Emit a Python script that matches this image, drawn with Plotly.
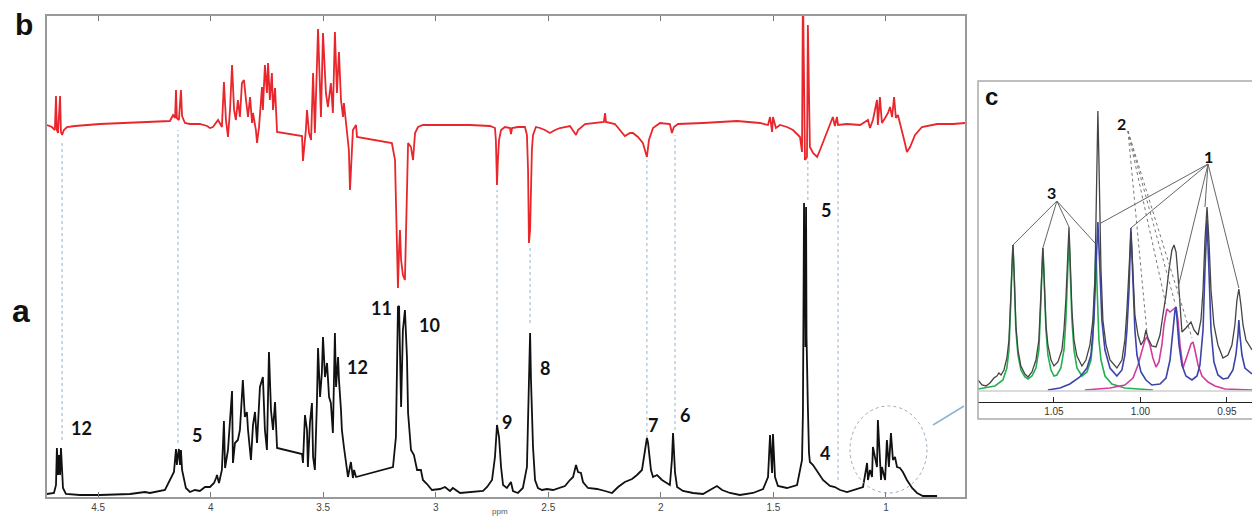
import plotly.graph_objects as go

# ---------------- main spectrum (a), black ----------------
black_ppm = [4.727,4.705,4.696,4.687,4.683,4.678,4.674,4.669,4.665,4.660,4.656,4.643,4.581,4.492,4.358,4.292,4.270,4.203,
             4.181,4.163,4.154,4.150,4.145,4.141,4.136,4.132,4.127,4.118,4.110,4.092,4.070,4.048,4.025,4.003,3.985,3.976,
             3.972,3.963,3.950,3.941,3.936,3.923,3.914,3.905,3.901,3.892,3.879,3.870,3.857,3.848,3.839,3.834,3.821,3.812,
             3.803,3.794,3.781,3.768,3.759,3.750,3.741,3.732,3.723,3.714,3.705,
             3.594,3.590,3.581,3.572,3.568,3.559,3.550,3.545,3.537,3.528,3.523,3.514,3.506,3.501,3.492,3.483,3.474,3.466,
             3.457,3.448,3.443,3.434,3.430,3.421,3.417,3.408,3.399,3.390,3.377,3.368,3.363,3.354,
             3.190,3.177,3.168,3.163,3.154,3.146,3.137,3.128,3.123,3.110,3.097,3.083,3.066,3.057,3.039,3.017,2.981,2.959,
             2.937,2.924,2.892,2.848,2.790,2.772,2.750,2.737,2.728,2.719,2.710,2.701,2.684,2.666,2.657,2.635,2.613,2.595,
             2.590,2.581,2.577,2.568,2.559,2.546,2.528,2.506,2.479,2.448,2.426,2.404,2.390,2.377,2.368,2.355,2.346,2.324,
             2.284,2.248,2.217,2.190,2.160,2.128,2.106,2.084,2.071,2.062,2.057,2.044,2.035,2.017,1.995,1.973,1.960,1.951,
             1.946,1.937,1.928,1.902,1.857,1.813,1.782,1.751,1.728,1.693,1.649,1.591,1.546,1.524,1.515,1.506,1.502,1.493,
             1.480,1.440,1.395,1.373,1.369,1.366,1.364,1.362,1.360,1.358,1.355,1.353,1.351,1.347,1.342,1.338,1.324,1.302,
             1.280,1.249,1.227,1.204,1.173,1.102,1.084,1.080,1.071,1.062,1.058,1.040,1.036,1.022,1.018,1.004,0.996,0.987,
             0.978,0.969,0.960,0.951,0.938,0.925,0.907,0.884,0.862,0.836,0.773,0.649]
black_int = [3,4,4,12,49,22,42,22,49,27,9,3,2,2,3,5,4,7,
             17,25,48,32,42,48,32,47,27,17,9,5,7,6,10,10,14,19,
             22,14,27,76,29,47,79,106,34,54,57,67,117,80,85,67,37,72,
             85,54,110,120,67,47,145,87,67,95,49,
             43,34,82,67,30,74,94,40,27,94,149,100,124,160,120,134,100,94,
             64,164,110,140,117,87,67,50,34,20,35,19,27,20,
             30,60,190,191,90,167,187,140,84,47,42,27,27,17,13,7,8,10,
             6,9,4,5,6,10,17,40,72,60,30,12,9,15,6,4,9,30,
             84,164,117,50,17,9,7,8,7,9,11,17,20,32,25,24,15,9,
             8,6,4,10,15,18,22,27,44,59,54,27,20,22,17,14,12,37,
             64,24,10,6,4,3,7,11,7,4,2,4,8,20,62,24,63,20,
             11,9,12,37,84,200,294,180,250,150,290,160,120,90,44,35,32,
             25,17,11,10,7,5,10,34,17,27,20,50,30,77,17,30,17,57,
             30,64,37,40,30,29,25,17,9,4,1,1]

# ---------------- difference spectrum (b), red ----------------
red_ppm = [4.727,4.705,4.692,4.687,4.683,4.678,4.669,4.665,4.660,4.652,4.638,4.603,4.492,4.358,4.225,4.181,4.167,4.158,
           4.154,4.150,4.141,4.132,4.127,4.114,4.092,4.048,4.016,4.003,3.990,3.972,3.967,3.950,3.941,3.932,3.923,3.914,
           3.905,3.896,3.888,3.879,3.870,3.861,3.852,3.843,3.834,3.825,3.816,3.812,3.799,3.794,3.785,3.772,3.768,3.759,
           3.750,3.745,3.737,3.728,3.723,3.714,3.705,
           3.594,3.590,3.577,3.572,3.563,3.554,3.545,3.537,3.523,3.510,3.501,3.488,3.479,3.466,3.457,3.448,3.439,3.430,
           3.421,3.412,3.408,3.399,3.390,3.386,3.381,3.372,3.368,3.354,3.350,
           3.195,3.181,3.177,3.172,3.168,3.163,3.159,3.154,3.146,3.137,3.132,3.128,3.123,3.110,3.101,3.092,3.079,3.057,
           2.981,2.848,2.759,2.737,2.733,2.728,2.724,2.719,2.710,2.693,2.670,2.666,2.661,2.635,2.604,2.595,2.590,2.586,
           2.581,2.577,2.573,2.568,2.555,2.537,2.515,2.493,2.470,2.448,2.426,2.404,2.377,2.368,2.337,2.293,2.253,2.248,
           2.244,2.204,2.182,2.160,2.137,2.124,2.102,2.080,2.062,2.053,2.035,2.004,1.960,1.951,1.942,1.924,1.813,1.662,
           1.560,1.524,1.515,1.506,1.502,1.489,1.471,1.440,1.413,1.382,1.373,1.369,1.360,1.351,1.347,1.338,1.324,1.306,
           1.293,1.271,1.253,1.236,1.227,1.218,1.213,1.173,1.115,1.080,1.071,1.058,1.040,1.036,1.027,1.018,1.004,0.991,
           0.982,0.973,0.964,0.956,0.947,0.929,0.916,0.907,0.893,0.871,0.840,0.773,0.702,0.649]
red_int = [0,-2,-5,29,-5,-8,29,-7,-10,-5,-2,-1,1,2,3,4,10,7,
           35,7,5,35,9,2,1,1,-1,-3,-2,3,5,-2,43,5,-12,15,
           60,15,5,25,8,42,45,25,8,28,2,12,-5,-18,-2,38,15,60,
           32,62,25,52,15,37,-7,
           -11,-36,-5,15,-8,-15,52,-8,96,8,92,32,18,42,12,93,32,73,
           25,8,22,2,-12,-25,-65,-15,-5,0,-12,
           -18,-35,-75,-135,-163,-125,-105,-135,-150,-155,-95,-45,-18,-22,-35,-8,-2,0,
           0,0,-1,-3,-15,-60,-35,-15,-5,-2,-3,-9,-3,-2,-2,-10,-45,-118,
           -105,-65,-25,-10,-2,-3,-5,-8,-5,-3,-2,-1,-10,-5,1,2,3,12,
           3,1,-5,-11,-8,-8,-12,-18,-32,-15,-3,2,1,-8,-2,1,2,4,
           2,0,8,-7,8,-3,0,-2,-5,-12,-27,140,-35,-32,100,-22,-28,-32,
           -25,-12,-1,8,-1,8,0,1,0,5,-3,5,25,0,28,2,7,12,
           18,8,28,7,10,-5,-18,-27,-22,-10,-2,1,1,2]

# ---------------- inset (c): 1.09 - 0.94 ppm ----------------
inset_black_ppm = [1.0939,1.0916,1.0893,1.0870,1.0847,1.0830,1.0818,1.0806,1.0789,1.0772,1.0760,1.0754,1.0749,1.0743,1.0737,
                   1.0731,1.0725,1.0720,1.0708,1.0691,1.0668,1.0650,1.0627,1.0604,1.0587,1.0581,1.0575,1.0569,1.0564,1.0558,
                   1.0552,1.0546,1.0535,1.0517,1.0500,1.0477,1.0454,1.0442,1.0431,1.0425,1.0419,1.0413,1.0408,1.0402,1.0396,
                   1.0384,1.0367,1.0338,1.0315,1.0292,1.0275,1.0263,1.0257,1.0252,1.0246,1.0240,1.0234,1.0228,1.0217,1.0199,
                   1.0176,1.0136,1.0107,1.0090,1.0078,1.0066,1.0061,1.0055,1.0049,1.0043,1.0032,1.0014,0.9997,0.9980,0.9968,
                   0.9957,0.9934,0.9910,0.9887,0.9870,0.9852,0.9835,0.9818,0.9806,0.9794,0.9783,0.9771,0.9760,0.9737,0.9708,
                   0.9690,0.9667,0.9650,0.9638,0.9627,0.9615,0.9604,0.9592,0.9575,0.9552,0.9523,0.9494,0.9471,0.9454,0.9442,
                   0.9431,0.9419,0.9407,0.9390,0.9355]
inset_black_int = [11,6,5,8,13,15,18,16,21,33,51,71,96,123,146,
                   123,96,66,41,25,17,14,19,31,51,71,96,123,143,121,
                   93,66,46,31,25,29,41,61,91,121,146,164,141,111,81,
                   51,35,25,31,46,71,111,171,231,280,231,171,121,71,46,
                   31,23,31,51,81,121,146,159,141,111,76,56,46,51,61,
                   53,45,44,56,76,96,121,141,146,139,116,81,59,63,69,
                   61,56,71,101,151,184,151,101,66,46,33,36,46,66,91,
                   102,86,66,51,41]

inset_green_ppm = [1.0939,1.0841,1.0795,1.0772,1.0760,1.0754,1.0749,1.0743,1.0737,1.0731,1.0725,1.0720,1.0708,1.0691,1.0668,
                   1.0650,1.0627,1.0604,1.0587,1.0581,1.0575,1.0569,1.0564,1.0558,1.0552,1.0546,1.0535,1.0517,1.0500,1.0483,
                   1.0460,1.0442,1.0431,1.0425,1.0419,1.0413,1.0408,1.0402,1.0396,1.0384,1.0367,1.0338,1.0309,1.0286,1.0275,
                   1.0269,1.0263,1.0257,1.0252,1.0246,1.0240,1.0228,1.0205,1.0165,1.0090,0.9928]
inset_green_int = [2,5,11,23,41,61,91,121,146,121,91,61,36,21,14,
                   12,15,23,41,61,91,121,143,121,91,61,36,21,15,16,
                   23,41,71,101,131,153,131,101,71,41,23,15,19,31,51,
                   81,111,144,111,81,51,31,15,7,3,1]

inset_blue_ppm = [1.0535,1.0465,1.0408,1.0350,1.0309,1.0286,1.0269,1.0257,1.0246,1.0234,1.0223,1.0205,1.0176,1.0136,1.0107,
                  1.0090,1.0078,1.0066,1.0061,1.0055,1.0049,1.0043,1.0032,1.0020,0.9997,0.9968,0.9934,0.9887,0.9852,0.9829,
                  0.9812,0.9800,0.9794,0.9789,0.9777,0.9760,0.9737,0.9702,0.9673,0.9656,0.9638,0.9627,0.9615,0.9604,0.9592,
                  0.9575,0.9552,0.9523,0.9494,0.9465,0.9448,0.9436,0.9431,0.9425,0.9413,0.9396,0.9355]
inset_blue_int = [1,3,7,14,23,36,71,121,169,121,71,41,23,15,21,
                  36,61,101,136,163,136,101,61,36,19,11,6,7,13,31,
                  61,81,84,71,46,26,15,11,15,26,61,121,171,121,61,
                  29,16,12,13,21,36,56,71,56,36,23,17]

inset_magenta_ppm = [1.0321,1.0176,1.0090,1.0043,1.0014,0.9991,0.9974,0.9962,0.9945,0.9928,0.9910,0.9893,0.9876,0.9864,0.9847,
                     0.9829,0.9812,0.9794,0.9783,0.9771,0.9754,0.9737,0.9719,0.9708,0.9696,0.9685,0.9667,0.9644,0.9609,0.9569,
                     0.9511,0.9355]
inset_magenta_int = [1,3,6,13,26,41,51,54,46,33,24,29,46,66,82,
                     79,81,84,71,46,23,31,41,47,49,41,26,15,9,5,
                     2,1]

main_tick_vals = [4.5, 4.0, 3.5, 3.0, 2.5, 2.0, 1.5, 1.0]
main_tick_text = ["4.5", "4", "3.5", "3", "2.5", "2", "1.5", "1"]
inset_tick_vals = [1.05, 1.00, 0.95]
inset_tick_text = ["1.05", "1.00", "0.95"]

# peak labels on spectrum a: (ppm, height, text)
peak_label_ppm = [4.572, 4.061, 3.346, 3.239, 3.026, 2.684, 2.515, 2.035, 1.893, 1.267, 1.271]
peak_label_int = [69, 62, 130, 189, 172, 75, 129, 72, 82, 287, 44]
peak_label_txt = ["12", "5", "12", "11", "10", "9", "8", "7", "6", "5", "4"]

# dotted links between b and a: ppm, lower, upper (in a's units)
link_ppm = [4.660, 4.145, 2.728, 2.581, 2.062, 1.937, 1.347, 1.213]
link_lo = [57, 54, 77, 174, 59, 67, 297, 17]
link_hi = [354, 367, 307, 252, 337, 362, 337, 362]

W, H = 1252, 517
def px(x): return x / W
def py(y): return 1 - y / H

fig = go.Figure()
fig.add_trace(go.Scatter(x=black_ppm, y=black_int, mode="lines", line=dict(color="#111111", width=1.8),
                         xaxis="x", yaxis="y", showlegend=False, hoverinfo="skip"))
fig.add_trace(go.Scatter(x=red_ppm, y=red_int, mode="lines", line=dict(color="#e8262b", width=1.8),
                         xaxis="x", yaxis="y2", showlegend=False, hoverinfo="skip"))

for xs, ys, col, w in [(inset_green_ppm, inset_green_int, "#25b050", 1.6),
                       (inset_magenta_ppm, inset_magenta_int, "#d23c9e", 1.6),
                       (inset_blue_ppm, inset_blue_int, "#3b44a8", 1.6),
                       (inset_black_ppm, inset_black_int, "#444444", 1.3)]:
    fig.add_trace(go.Scatter(x=xs, y=ys, mode="lines", line=dict(color=col, width=w),
                             xaxis="x3", yaxis="y3", showlegend=False, hoverinfo="skip"))

shapes = []
for xv, lo, hi in zip(link_ppm, link_lo, link_hi):
    shapes.append(dict(type="line", xref="x", yref="y", x0=xv, x1=xv, y0=lo, y1=hi,
                       line=dict(color="#8fb4d4", width=1, dash="dot")))
# dotted circle around the 1 ppm cluster
shapes.append(dict(type="circle", xref="x", yref="y", x0=1.160, x1=0.818, y0=4, y1=91,
                   line=dict(color="#9aaabb", width=1, dash="dot")))
# connector to inset
shapes.append(dict(type="line", xref="paper", yref="paper", x0=px(933), x1=px(964), y0=py(425), y1=py(406),
                   line=dict(color="#8fb4d4", width=1.5)))
# inset frame
shapes.append(dict(type="rect", xref="paper", yref="paper", x0=px(978), x1=1.01, y0=py(419), y1=py(81),
                   line=dict(color="#aaaaaa", width=1.5)))
# inset baseline
shapes.append(dict(type="line", xref="x3", yref="y3", x0=1.0939, x1=0.9355, y0=0, y1=0,
                   line=dict(color="#cfcfcf", width=1.5)))
# inset label leader lines
lead3 = [(1.0737, 146), (1.0564, 143), (1.0413, 164), (1.0263, 148)]
for xv, yv in lead3:
    shapes.append(dict(type="line", xref="x3", yref="y3", x0=1.0483, y0=190, x1=xv, y1=yv,
                       line=dict(color="#666666", width=1)))
lead1 = [(1.0228, 168), (1.0055, 163), (0.9783, 103), (0.9627, 184), (0.9431, 103)]
for xv, yv in lead1:
    shapes.append(dict(type="line", xref="x3", yref="y3", x0=0.9609, y0=227, x1=xv, y1=yv,
                       line=dict(color="#666666", width=1)))
lead2 = [(0.9962, 58), (0.9852, 86), (0.9800, 88), (0.9702, 53)]
for xv, yv in lead2:
    shapes.append(dict(type="line", xref="x3", yref="y3", x0=1.0072, y0=260, x1=xv, y1=yv,
                       line=dict(color="#777777", width=1, dash="dot")))

annotations = []
for xv, yv, t in zip(peak_label_ppm, peak_label_int, peak_label_txt):
    annotations.append(dict(x=xv, y=yv, xref="x", yref="y", text="<b>%s</b>" % t, showarrow=False,
                            xanchor="center", yanchor="middle",
                            font=dict(family="Lato", size=18, color="#111111")))
for t, x, y, s in [("b", 24, 24, 30), ("a", 21, 311, 32), ("c", 991, 97, 24)]:
    annotations.append(dict(x=px(x), y=py(y), xref="paper", yref="paper", text="<b>%s</b>" % t,
                            xanchor="center", yanchor="middle",
                            showarrow=False, font=dict(family="Liberation Sans", size=s, color="#111111")))
for t, xv, yv in [("3", 1.0512, 199), ("1", 0.9604, 235), ("2", 1.0107, 268)]:
    annotations.append(dict(x=xv, y=yv, xref="x3", yref="y3", text="<b>%s</b>" % t, showarrow=False,
                            xanchor="center", yanchor="middle",
                            font=dict(family="Lato", size=16, color="#111111")))
annotations.append(dict(x=px(500), y=0.0, xref="paper", yref="paper", text="ppm", showarrow=False,
                        xanchor="center", yanchor="bottom", borderpad=0,
                        font=dict(family="Liberation Sans", size=8, color="#555555")))

fig.update_layout(
    width=W, height=H, margin=dict(l=0, r=0, t=0, b=0),
    paper_bgcolor="white", plot_bgcolor="white",
    xaxis=dict(domain=[px(47), px(965)], range=[4.727, 0.649], tickvals=main_tick_vals, ticktext=main_tick_text,
               ticks="inside", ticklen=5, tickcolor="#777777", showline=True, linecolor="#999999", linewidth=1.5,
               mirror="ticks", showgrid=False, zeroline=False,
               tickfont=dict(family="Liberation Sans", size=10, color="#444444"), anchor="y"),
    yaxis=dict(domain=[py(497), py(16)], range=[0, 481], showticklabels=False, ticks="", showgrid=False,
               zeroline=False, showline=True, linecolor="#999999", linewidth=1.5, mirror=True),
    yaxis2=dict(overlaying="y", range=[-372, 109], visible=False),
    xaxis3=dict(domain=[px(978), 1.0], range=[1.0939, 0.9355], anchor="y3", tickvals=inset_tick_vals,
                ticktext=inset_tick_text, ticks="inside", ticklen=5, tickcolor="#222222", showline=True,
                linecolor="#222222", linewidth=1.2, showgrid=False, zeroline=False,
                tickfont=dict(family="Liberation Sans", size=10, color="#333333")),
    yaxis3=dict(domain=[py(402), py(81)], range=[-11, 310], anchor="x3", visible=False),
    shapes=shapes, annotations=annotations,
)
fig.write_html("out.html")
